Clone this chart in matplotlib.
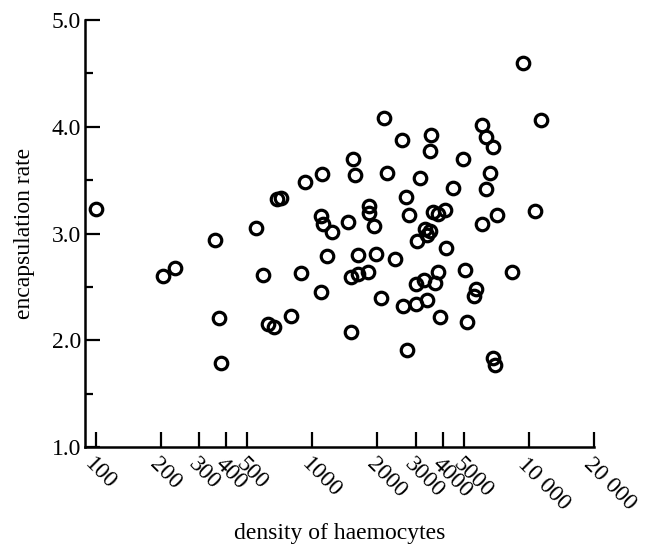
import numpy as np
import matplotlib
matplotlib.use('Agg')
import matplotlib.pyplot as plt
from matplotlib.ticker import FixedLocator, MultipleLocator

plt.rcParams['font.family'] = ['Liberation Serif', 'DejaVu Serif']

# density of haemocytes (log axis) vs encapsulation rate
density = [100, 356, 551, 689, 719, 929, 1112, 1545, 1580, 1101,
           1124, 1237, 1466, 9441, 11430, 2150, 2607, 3548, 3510, 6095,
           6362, 6853, 2220, 3154, 4977, 6640, 4477, 6362, 2718, 1832,
           1832, 1932, 2805, 3622, 3819, 4115, 6095, 7157, 10714, 3327,
           3510, 3398, 3055, 4159, 1173, 1630, 1977, 2416, 1514, 1630,
           1814, 2085, 3020, 3288, 3698, 3819, 2631, 3020, 3398, 3902,
           5092, 5729, 5600, 8392, 5200, 1514, 2747, 6853, 7000, 205,
           233, 594, 889, 1101, 372, 627, 667, 800, 380]
rate = [3.23, 2.94, 3.05, 3.32, 3.33, 3.48, 3.56, 3.70, 3.55, 3.16,
        3.09, 3.01, 3.11, 4.60, 4.06, 4.08, 3.88, 3.92, 3.77, 4.02,
        3.90, 3.81, 3.57, 3.52, 3.70, 3.57, 3.43, 3.42, 3.34, 3.26,
        3.19, 3.07, 3.17, 3.20, 3.18, 3.22, 3.09, 3.17, 3.21, 3.04,
        3.02, 2.99, 2.93, 2.86, 2.79, 2.80, 2.81, 2.76, 2.59, 2.62,
        2.64, 2.40, 2.53, 2.56, 2.54, 2.64, 2.32, 2.34, 2.38, 2.22,
        2.66, 2.48, 2.41, 2.64, 2.17, 2.08, 1.91, 1.83, 1.77, 2.60,
        2.68, 2.61, 2.63, 2.45, 2.21, 2.15, 2.12, 2.23, 1.79]

xticks = [100, 200, 300, 400, 500, 1000, 2000, 3000, 4000, 5000, 10000, 20000]
xlabels = ['100', '200', '300', '400', '500', '1000', '2000', '3000', '4000',
           '5000', '10 000', '20 000']

fig = plt.figure(figsize=(6.56, 5.44), dpi=100)
W, H = 656, 544
ax = fig.add_axes([85 / W, 97 / H, (594 - 85) / W, (447 - 20) / H])

ax.plot(density, rate, 'o', mfc='none', mec='black', ms=9, mew=2.3, clip_on=False)

ax.set_xscale('log')
ax.set_xlim(10 ** (3 + (85 - 312) / 216.5), 20000)
ax.set_ylim(1.0, 5.0)

ax.xaxis.set_major_locator(FixedLocator(xticks))
ax.xaxis.set_minor_locator(FixedLocator([]))
ax.set_xticklabels(xlabels)
ax.yaxis.set_major_locator(MultipleLocator(1.0))
ax.yaxis.set_minor_locator(MultipleLocator(0.5))
ax.yaxis.set_major_formatter(plt.FormatStrFormatter('%.1f'))

for s in ['top', 'right']:
    ax.spines[s].set_visible(False)
for s in ['left', 'bottom']:
    ax.spines[s].set_linewidth(1.8)

ax.tick_params(axis='both', which='major', direction='in', length=11, width=1.6,
               labelsize=17)
ax.tick_params(axis='y', which='minor', direction='in', length=6, width=1.6)
ax.tick_params(axis='x', pad=5)
ax.tick_params(axis='y', pad=3)

for lab in ax.get_xticklabels():
    lab.set_rotation(-45)
    lab.set_ha('left')
    lab.set_va('top')
    lab.set_rotation_mode('anchor')

ax.set_xlabel('density of haemocytes', fontsize=17, labelpad=6)
ax.set_ylabel('encapsulation rate', fontsize=17, labelpad=12)

fig.savefig('out.png', dpi=100)
